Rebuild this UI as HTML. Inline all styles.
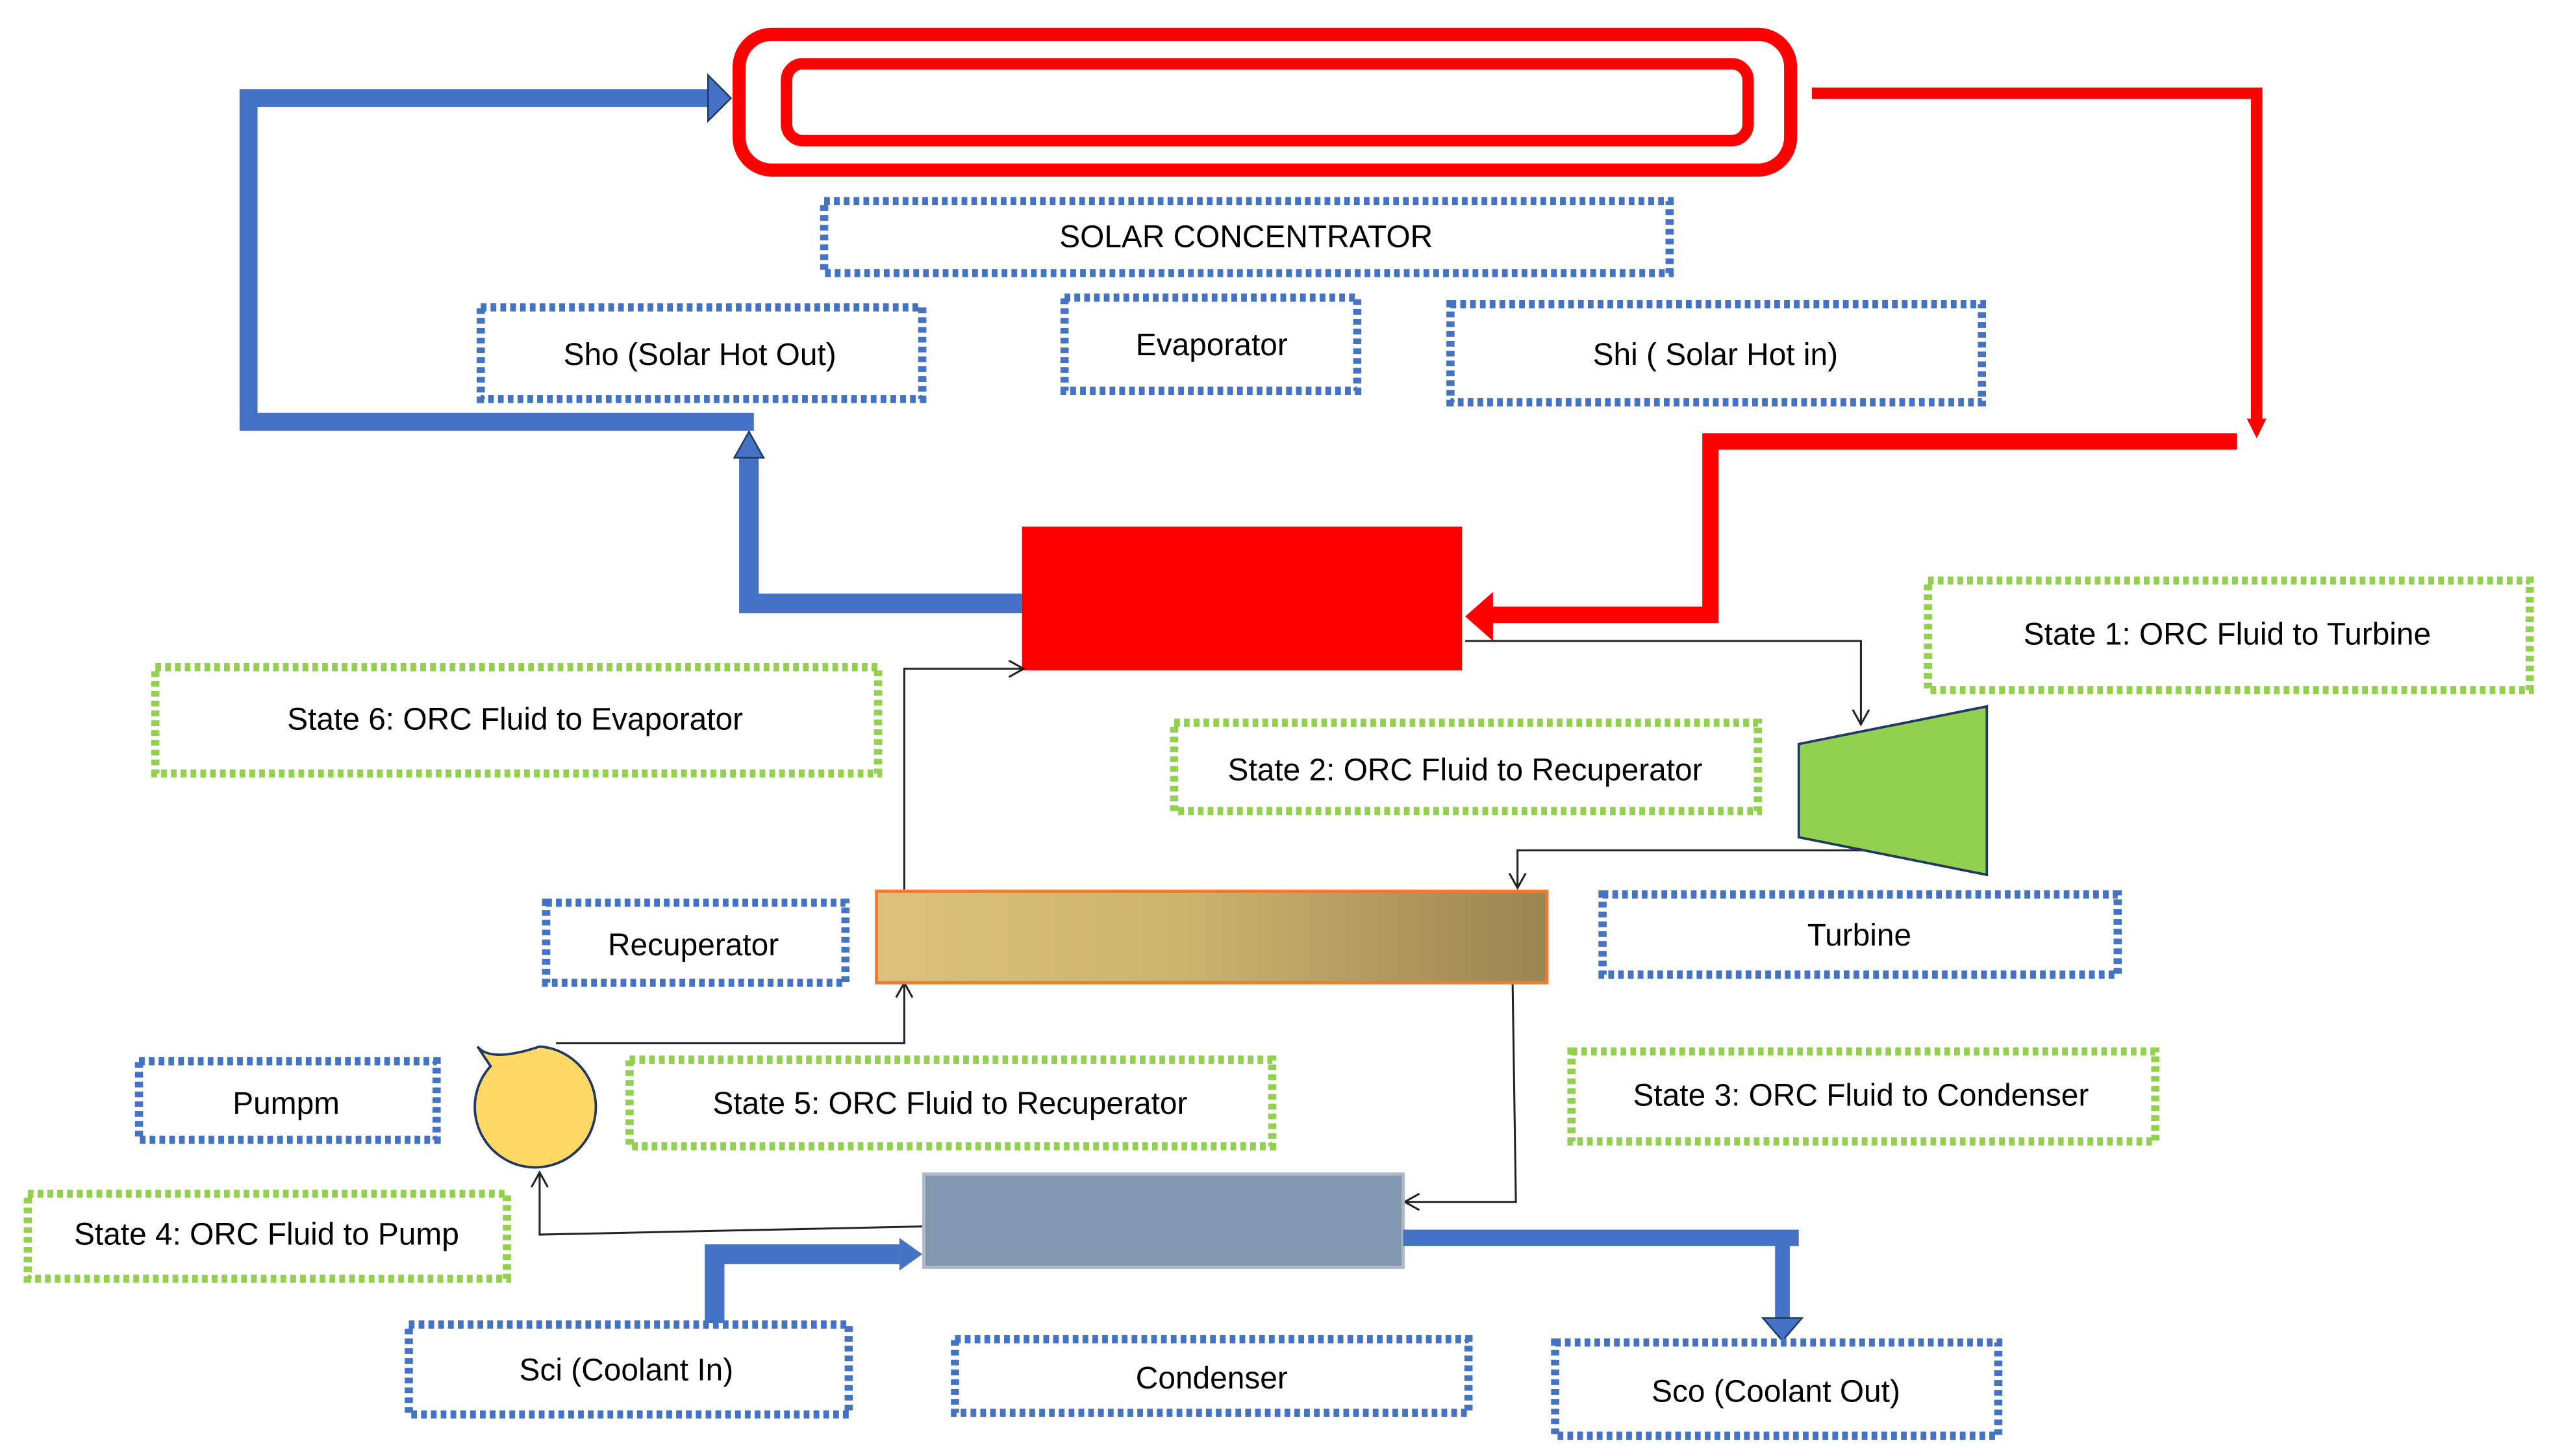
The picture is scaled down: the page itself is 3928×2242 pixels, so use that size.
<!DOCTYPE html>
<html><head><meta charset="utf-8"><style>html,body{margin:0;padding:0;background:#fff}svg{display:block}</style></head><body>
<svg width="3928" height="2242" viewBox="0 0 1560 890.4" preserveAspectRatio="none" xmlns="http://www.w3.org/2000/svg" font-family="Liberation Sans, sans-serif" font-size="19">
<defs>
<linearGradient id="g" x1="0" x2="1" y1="0" y2="0"><stop offset="0" stop-color="#dcc27a"/><stop offset="0.45" stop-color="#cdb46e"/><stop offset="1" stop-color="#9a8552"/></linearGradient>
</defs>
<rect width="1560" height="890.4" fill="#fff"/>
<!-- solar concentrator -->
<rect x="452" y="21" width="643" height="83" rx="20" fill="none" stroke="#f00" stroke-width="8"/>
<rect x="481" y="39" width="588" height="47" rx="10" fill="none" stroke="#f00" stroke-width="7"/>
<!-- blue hot loop -->
<path d="M461,258 H152 V60 H435" fill="none" stroke="#4472C4" stroke-width="11"/>
<polygon points="433,46 447,60 433,74" fill="#4472C4" stroke="#203864" stroke-width="1"/>
<path d="M625,369 H458 V278" fill="none" stroke="#4472C4" stroke-width="12"/>
<polygon points="449,280 458,264 467,280" fill="#4472C4" stroke="#203864" stroke-width="1"/>
<!-- red loop -->
<path d="M1108,57 H1380 V258" fill="none" stroke="#f00" stroke-width="7"/>
<polygon points="1374,256 1386,256 1380,268" fill="#f00"/>
<path d="M1368,270 H1046 V376 H912" fill="none" stroke="#f00" stroke-width="10"/>
<polygon points="913,362 896,377 913,392" fill="#f00"/>
<rect x="625" y="322" width="269" height="88" fill="#f00"/>
<!-- thin lines -->
<g fill="none" stroke="#222" stroke-width="1.2">
<path d="M896,392 H1138 V442"/><path d="M1133,434 L1138,443 L1143,434"/>
<path d="M1140,520 H928 V542"/><path d="M923,534 L928,543 L933,534"/>
<path d="M553,544 V409 H625"/><path d="M617,404 L626,409 L617,414"/>
<path d="M340,638 H553 V602"/><path d="M548,610 L553,601 L558,610"/>
<path d="M925,601 L927,735 H860"/><path d="M868,730 L859,735 L868,740"/>
<path d="M565,750 L330,755 V718"/><path d="M325,726 L330,717 L335,726"/>
</g>
<!-- turbine -->
<polygon points="1100,455 1215,432 1215,535 1100,512" fill="#92D050" stroke="#203864" stroke-width="1.5"/>
<!-- recuperator -->
<rect x="536" y="545" width="410" height="56" fill="url(#g)" stroke="#ED7D31" stroke-width="2"/>
<!-- pump -->
<path d="M292,640 L300,652 A37,37 0 1 0 330,640 Q300,650 292,640 Z" fill="#FFD966" stroke="#203864" stroke-width="1.5"/>
<!-- condenser -->
<rect x="565" y="718" width="293" height="57" fill="#8497B0" stroke="#adb9ca" stroke-width="2"/>
<path d="M858,757 H1100" stroke="#4472C4" stroke-width="10" fill="none"/>
<path d="M1090,757 V808" stroke="#4472C4" stroke-width="9" fill="none" />
<polygon points="1078,806 1102,806 1090,820" fill="#4472C4" stroke="#203864" stroke-width="1"/>
<path d="M437,809 V767 H550" stroke="#4472C4" stroke-width="12" fill="none"/>
<polygon points="550,757 564,767 550,777" fill="#4472C4"/>
<!-- label boxes -->
<g fill="none" stroke-width="5" stroke-dasharray="3.5 2.5">
<g stroke="#4472C4">
<rect x="504" y="123" width="517" height="44"/>
<rect x="294" y="188" width="270" height="56"/>
<rect x="651" y="182" width="179" height="57"/>
<rect x="887" y="186" width="325" height="60"/>
<rect x="334" y="552" width="183" height="49"/>
<rect x="980" y="547" width="315" height="49"/>
<rect x="85" y="649" width="182" height="48"/>
<rect x="250" y="810" width="269" height="55"/>
<rect x="584" y="819" width="314" height="45"/>
<rect x="951" y="821" width="271" height="57"/>
</g>
<g stroke="#92D050">
<rect x="1179" y="355" width="368" height="67"/>
<rect x="95" y="408" width="442" height="65"/>
<rect x="718" y="442" width="357" height="54"/>
<rect x="385" y="648" width="393" height="53"/>
<rect x="961" y="643" width="357" height="55"/>
<rect x="17" y="730" width="293" height="52"/>
</g>
</g>
<g fill="#000" text-anchor="middle" dominant-baseline="central">
<text x="762" y="145">SOLAR CONCENTRATOR</text>
<text x="428" y="217">Sho (Solar Hot Out)</text>
<text x="741" y="211">Evaporator</text>
<text x="1049" y="217">Shi ( Solar Hot in)</text>
<text x="1362" y="388">State 1: ORC Fluid to Turbine</text>
<text x="315" y="440">State 6: ORC Fluid to Evaporator</text>
<text x="896" y="471">State 2: ORC Fluid to Recuperator</text>
<text x="424" y="578">Recuperator</text>
<text x="1137" y="572">Turbine</text>
<text x="175" y="675">Pumpm</text>
<text x="581" y="675">State 5: ORC Fluid to Recuperator</text>
<text x="1138" y="670">State 3: ORC Fluid to Condenser</text>
<text x="163" y="755">State 4: ORC Fluid to Pump</text>
<text x="383" y="838">Sci (Coolant In)</text>
<text x="741" y="843">Condenser</text>
<text x="1086" y="851">Sco (Coolant Out)</text>
</g>
</svg>
</body></html>
